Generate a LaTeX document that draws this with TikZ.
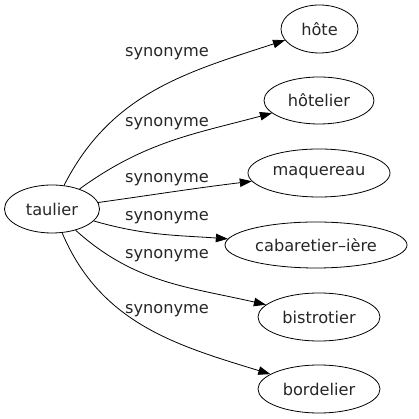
\documentclass[tikz,border=0pt]{standalone}
\usepackage{fontspec}
\setmainfont{DejaVu Sans}
\usetikzlibrary{shapes.geometric,arrows.meta}

\begin{document}
\begin{tikzpicture}[x=1pt,y=1pt,>={Triangle[length=12pt,width=8.5pt]},line width=0.8pt]
 \tikzstyle{word} = [draw,ellipse,inner sep=0,text=black!85,font=\fontsize{16.2}{19}\selectfont]
 \tikzstyle{rel} = [font=\fontsize{16.2}{19}\selectfont,text=black!85]
 \useasboundingbox (0,0) rectangle (419,419);

 \node[word,minimum width=95,minimum height=48] (taulier) at (52,210) {taulier};
 \node[word,minimum width=77,minimum height=48] (hote) at (319.5,390) {hôte};
 \node[word,minimum width=110,minimum height=47] (hotelier) at (319,318.5) {hôtelier};
 \node[word,minimum width=142,minimum height=48] (maquereau) at (319,246) {maquereau};
 \node[word,minimum width=182,minimum height=46] (cabaretier) at (316,174) {cabaretier–ière};
 \node[word,minimum width=122,minimum height=48] (bistrotier) at (319,102) {bistrotier};
 \node[word,minimum width=122,minimum height=48] (bordelier) at (319,30) {bordelier};

 % edges from taulier
 \draw[->] (taulier) to[out=63,in=198] (hote);
 \draw[->] (taulier) to[out=36,in=195] (hotelier);
 \draw[->] (taulier) to[out=8,in=187] (maquereau);
 \draw[->] (taulier) to[out=-16,in=176] (cabaretier);
 \draw[->] (taulier) to[out=-42,in=167] (bistrotier);
 \draw[->] (taulier) to[out=-67,in=163] (bordelier);

 \node[rel] (l1) at (167,365) {synonyme};
 \node[rel] (l2) at (167,295) {synonyme};
 \node[rel] (l3) at (167,239) {synonyme};
 \node[rel] (l4) at (167,201) {synonyme};
 \node[rel] (l5) at (167,163) {synonyme};
 \node[rel] (l6) at (167,108) {synonyme};
\end{tikzpicture}
\end{document}
